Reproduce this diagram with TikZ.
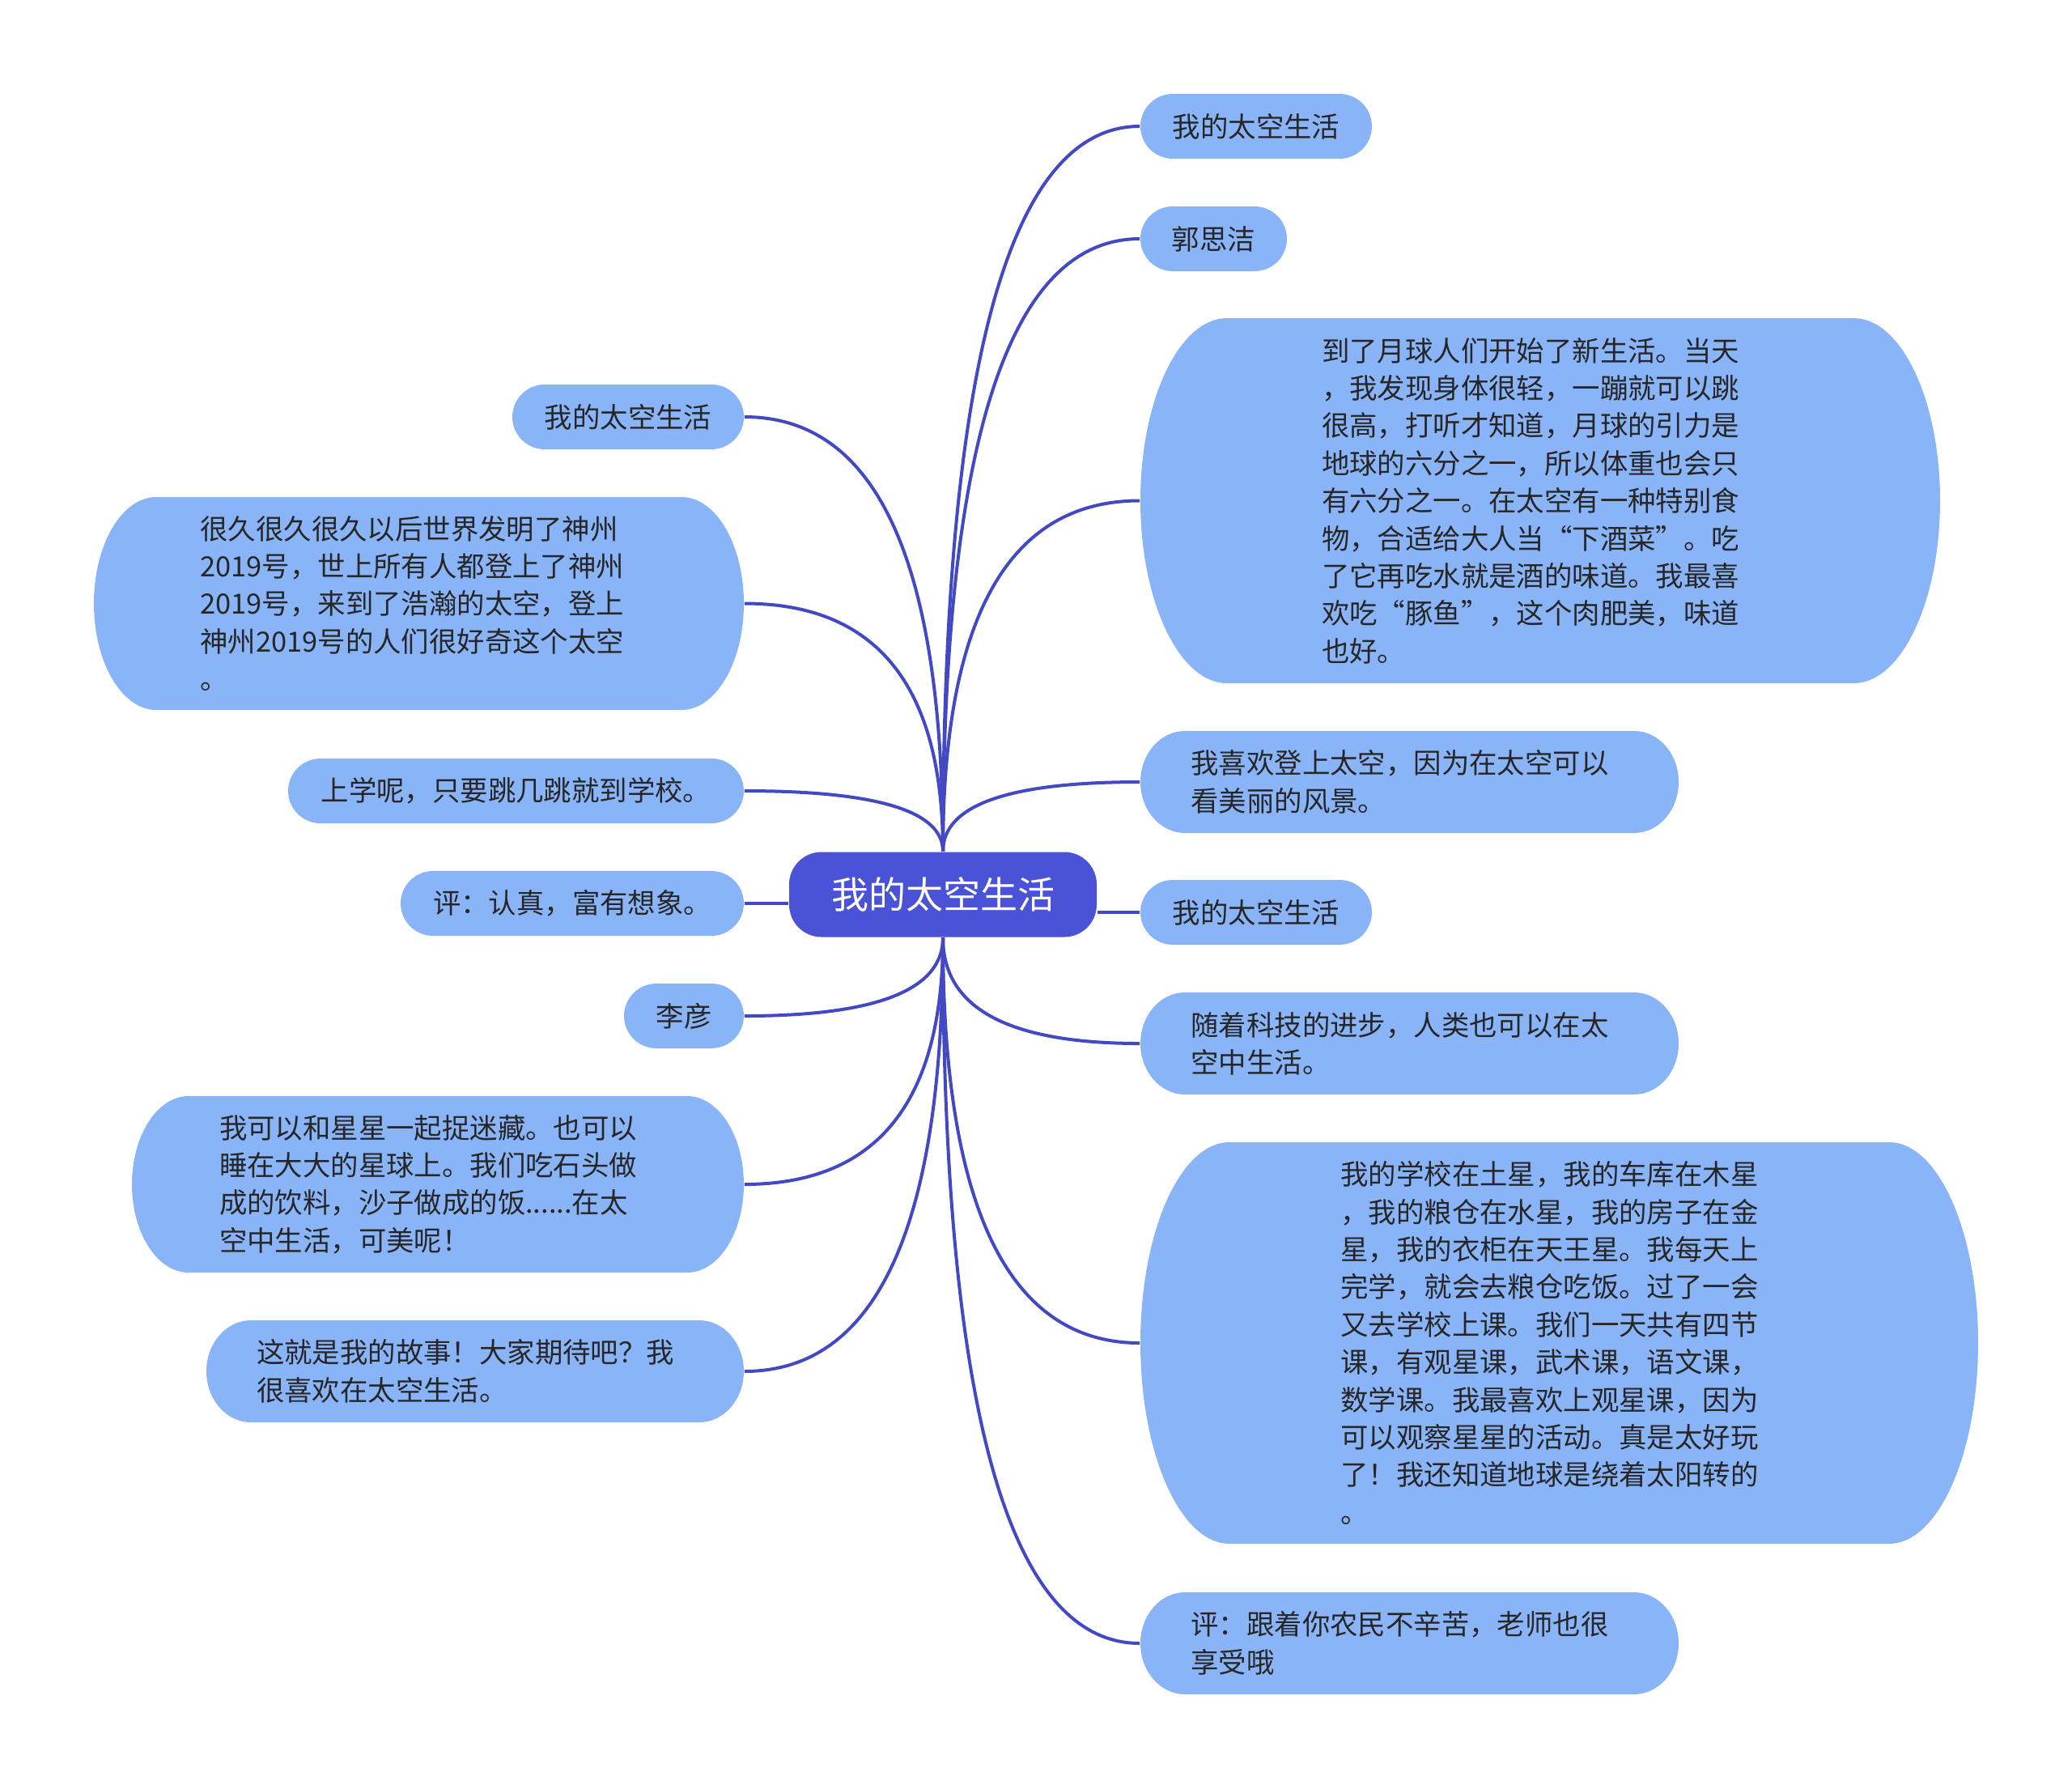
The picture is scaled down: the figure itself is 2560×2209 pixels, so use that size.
\documentclass[tikz,border=0pt]{standalone}
\usepackage{fontspec}
\setmainfont{Noto Sans CJK SC}
\usetikzlibrary{calc}
\definecolor{leaffill}{HTML}{8AB4F8}
\definecolor{rootfill}{HTML}{4A52D5}
\definecolor{linkblue}{HTML}{4349C2}
\definecolor{inkdark}{HTML}{262626}
\newcommand{\leaffont}{\fontsize{8.6pt}{11.6pt}\selectfont}
\newcommand{\rootfont}{\fontsize{11.5pt}{14pt}\selectfont}

\begin{document}
\begin{tikzpicture}[x=0.25pt, y=-0.25pt,
    root/.style={fill=rootfill, rounded corners=10pt, inner sep=0pt,
      text=white, font=\rootfont, minimum width=95pt, minimum height=26.25pt},
    bubble/.style={inner sep=0pt, text=inkdark, font=\leaffont,
      path picture={
        \fill[leaffill] let \p1=(path picture bounding box.north east),
          \p2=(path picture bounding box.south west),
          \n1={(\y1-\y2)/2}, \n2={#1*0.25pt} in
          (\x2+\n2,\y1) -- (\x1-\n2,\y1)
          arc[start angle=90, end angle=-90, x radius=\n2, y radius=\n1]
          -- (\x2+\n2,\y2)
          arc[start angle=270, end angle=90, x radius=\n2, y radius=\n1] -- cycle;
      }},
    sz/.style 2 args={minimum width=#1*0.25pt, minimum height=#2*0.25pt},
    para/.style={text width=135pt, align=left},
    branch/.style={draw=linkblue, line width=1pt,
      to path={.. controls ($(\tikztostart)!.667!(\tikztostart |- \tikztotarget)$)
        and ($(\tikztotarget)!.667!(\tikztostart |- \tikztotarget)$) .. (\tikztotarget)}}]
    \useasboundingbox (0,0) rectangle (2560,2209);

    \node[root] (root) at (1165,1105) {我的太空生活};

    % right side
    \node[bubble=40, sz={286}{80}] (r1) at (1552,156) {我的太空生活};
    \node[bubble=40, sz={181}{80}] (r2) at (1499.5,295) {郭思洁};
    \node[bubble=107, sz={988}{451}, para] (r3) at (1903,618.5) {到了月球人们开始了新生活。当天\\，我发现身体很轻，一蹦就可以跳\\很高，打听才知道，月球的引力是\\地球的六分之一，所以体重也会只\\有六分之一。在太空有一种特别食\\物，合适给大人当“下酒菜”。吃\\了它再吃水就是酒的味道。我最喜\\欢吃“豚鱼”，这个肉肥美，味道\\也好。};
    \node[bubble=55, sz={665}{126}, para] (r4) at (1741.5,966) {我喜欢登上太空，因为在太空可以\\看美丽的风景。};
    \node[bubble=40, sz={286}{80}] (r5) at (1552,1127) {我的太空生活};
    \node[bubble=55, sz={665}{126}, para] (r6) at (1741.5,1289) {随着科技的进步，人类也可以在太\\空中生活。};
    \node[bubble=110, sz={1035}{496}, para] (r7) at (1926.5,1659) {我的学校在土星，我的车库在木星\\，我的粮仓在水星，我的房子在金\\星，我的衣柜在天王星。我每天上\\完学，就会去粮仓吃饭。过了一会\\又去学校上课。我们一天共有四节\\课，有观星课，武术课，语文课，\\数学课。我最喜欢上观星课，因为\\可以观察星星的活动。真是太好玩\\了！我还知道地球是绕着太阳转的\\。};
    \node[bubble=55, sz={665}{126}, para] (r8) at (1741.5,2030) {评：跟着你农民不辛苦，老师也很\\享受哦};

    % left side
    \node[bubble=40, sz={286}{80}] (l1) at (776,515) {我的太空生活};
    \node[bubble=77, sz={803}{263}, para] (l2) at (517.5,745.5) {很久很久很久以后世界发明了神州\\2019号，世上所有人都登上了神州\\2019号，来到了浩瀚的太空，登上\\神州2019号的人们很好奇这个太空\\。};
    \node[bubble=40, sz={563}{80}] (l3) at (637.5,977) {上学呢，只要跳几跳就到学校。};
    \node[bubble=40, sz={424}{80}] (l4) at (707,1116) {评：认真，富有想象。};
    \node[bubble=40, sz={148}{80}] (l5) at (845,1255) {李彦};
    \node[bubble=70, sz={756}{218}, para] (l6) at (541,1463) {我可以和星星一起捉迷藏。也可以\\睡在大大的星球上。我们吃石头做\\成的饮料，沙子做成的饭......在太\\空中生活，可美呢！};
    \node[bubble=55, sz={664}{126}, para] (l7) at (587,1694) {这就是我的故事！大家期待吧？我\\很喜欢在太空生活。};

    % branches
    \draw[branch] (root.north) to (r1.west);
    \draw[branch] (root.north) to (r2.west);
    \draw[branch] (root.north) to (r3.west);
    \draw[branch] (root.north) to (r4.west);
    \draw[branch] (root.east |- r5.west) -- (r5.west);
    \draw[branch] (root.south) to (r6.west);
    \draw[branch] (root.south) to (r7.west);
    \draw[branch] (root.south) to (r8.west);
    \draw[branch] (root.north) to (l1.east);
    \draw[branch] (root.north) to (l2.east);
    \draw[branch] (root.north) to (l3.east);
    \draw[branch] (root.west |- l4.east) -- (l4.east);
    \draw[branch] (root.south) to (l5.east);
    \draw[branch] (root.south) to (l6.east);
    \draw[branch] (root.south) to (l7.east);
\end{tikzpicture}
\end{document}
